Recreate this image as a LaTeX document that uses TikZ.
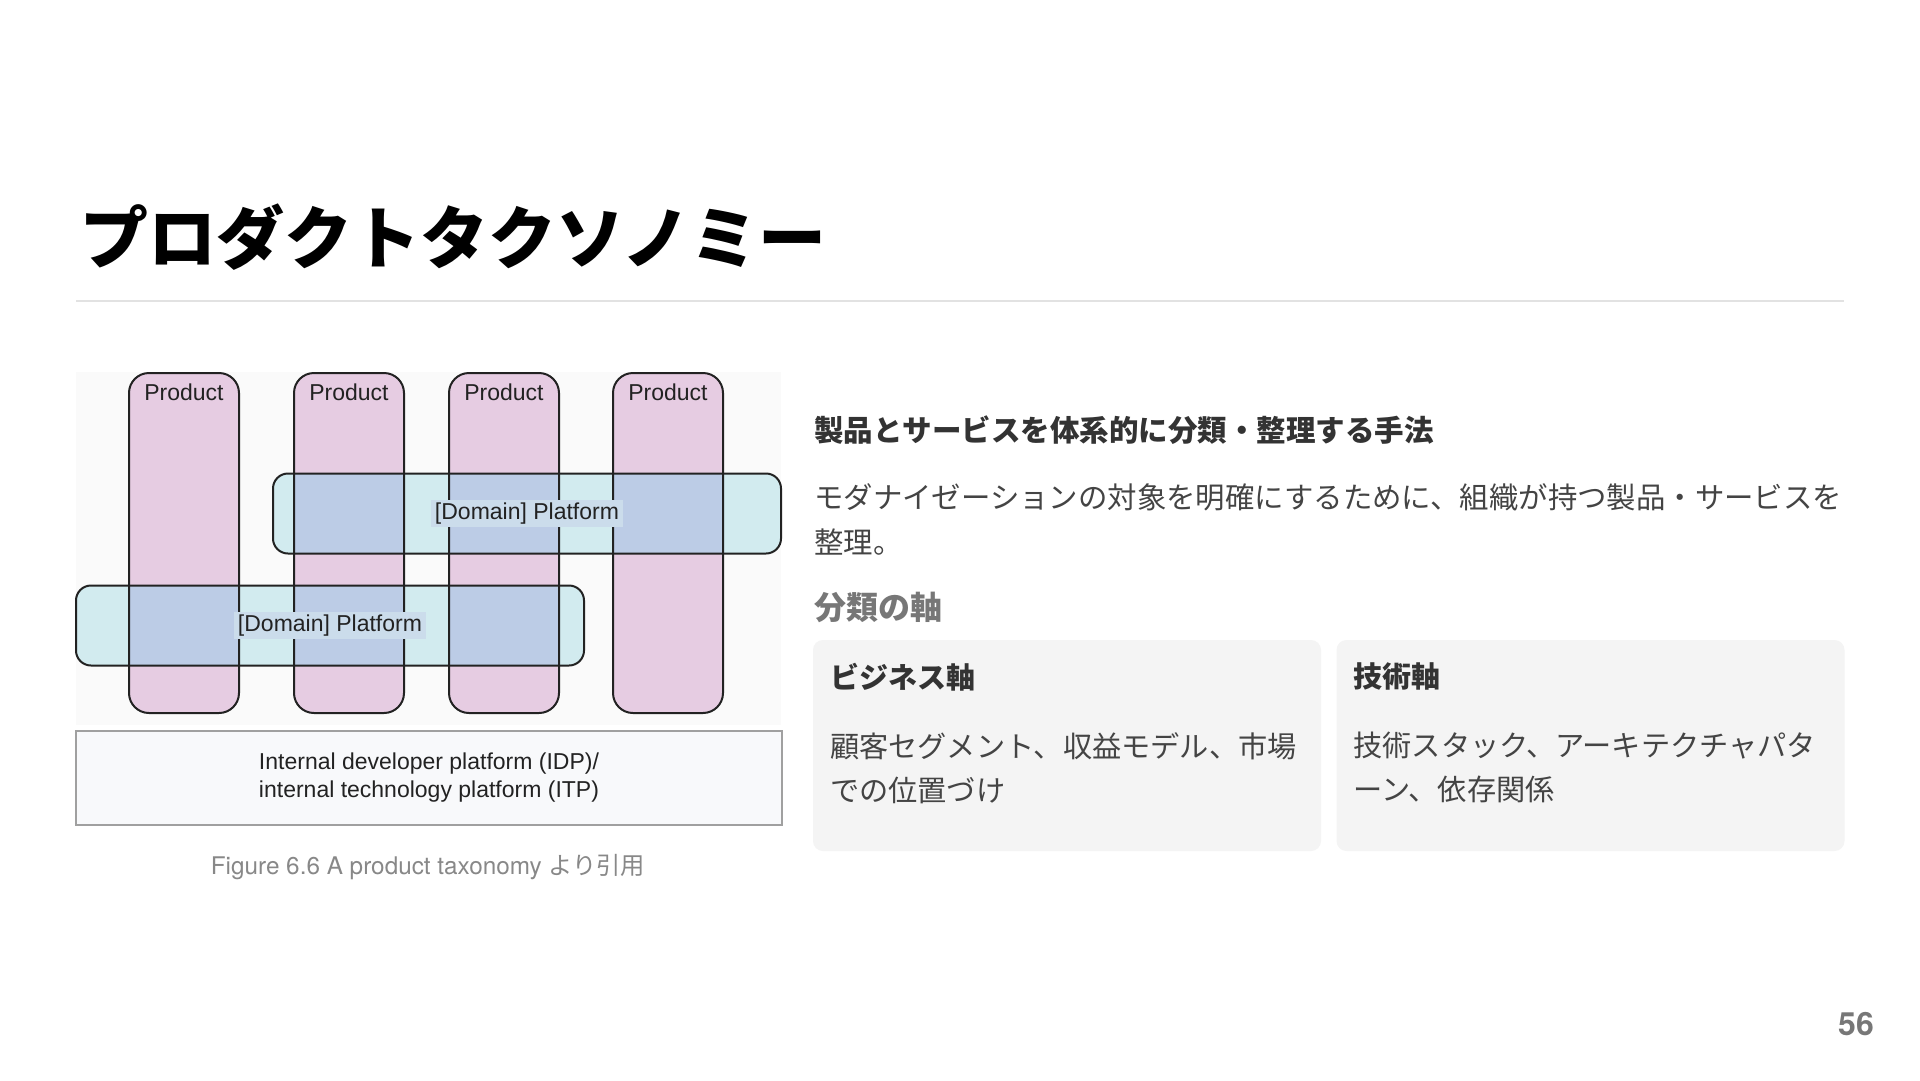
\documentclass[tikz,border=0pt]{standalone}
\usepackage{fontspec}
\setmainfont{Liberation Sans}
\newfontfamily\jpfont{Noto Sans CJK JP}
\newfontfamily\capfont{TeX Gyre Heros}
\usetikzlibrary{positioning}
\definecolor{prodpink}{RGB}{230,204,226}
\definecolor{platcyan}{RGB}{210,235,239}
\definecolor{overlapblue}{RGB}{188,204,230}
\definecolor{labelblue}{RGB}{203,220,235}
\definecolor{edgegray}{RGB}{34,34,34}
\definecolor{diagbg}{RGB}{250,250,250}
\definecolor{idpfill}{RGB}{248,249,251}
\definecolor{idpedge}{RGB}{160,160,160}
\definecolor{cardgray}{RGB}{244,244,244}
\definecolor{rulegray}{RGB}{226,226,226}
\definecolor{headgray}{RGB}{51,51,51}
\definecolor{bodygray}{RGB}{68,68,68}
\definecolor{axisgray}{RGB}{119,119,119}
\definecolor{capgray}{RGB}{136,136,136}
\tikzset{product/.style={fill=prodpink, minimum width=110pt, minimum height=340pt, rounded corners=20pt, inner sep=0pt, outer sep=0pt}}
\tikzset{platform/.style={fill=platcyan, minimum width=508pt, minimum height=80pt, rounded corners=15pt, inner sep=0pt, outer sep=0pt}}
\tikzset{edge/.style={draw=edgegray, line width=2pt}}
\tikzset{prodtext/.style={inner sep=0pt, text=edgegray, font=\fontsize{23}{26}\selectfont}}
\tikzset{domtext/.style={fill=labelblue, inner xsep=4pt, inner ysep=3pt, text=edgegray, font=\fontsize{23}{26}\selectfont}}
\tikzset{card/.style={fill=cardgray, rounded corners=10pt, minimum width=508pt, minimum height=211pt, inner sep=0pt}}
\tikzset{cardhead/.style={anchor=west, inner sep=0pt, text=headgray, font=\jpfont\bfseries\fontsize{29}{44}\selectfont}}
\tikzset{cardbody/.style={anchor=west, inner sep=0pt, align=left, text=bodygray, font=\jpfont\fontsize{29.2}{44}\selectfont}}

\begin{document}
\begin{tikzpicture}[x=1pt, y=-1pt, node distance=50pt]
\fill[white] (0,0) rectangle (1920,1080);
\useasboundingbox (0,0) rectangle (1920,1080);

% title and rule
\node[anchor=west, inner sep=0pt, font=\jpfont\bfseries\fontsize{68}{80}\selectfont] (title) at (80,237) {プロダクトタクソノミー};
\draw[rulegray, line width=1.5pt] (76,301) -- (1844,301);

% taxonomy figure
\node[fill=diagbg, minimum width=705pt, minimum height=353pt, inner sep=0pt] (figbg) at (428.5,548.5) {};
\node[product] (P1) at (184,543) {};
\node[product, right=55pt of P1] (P2) {};
\node[product, right=45pt of P2] (P3) {};
\node[product, right=54pt of P3] (P4) {};
\node[platform] (D1) at (527,513.5) {};
\node[platform] (D2) at (330,625.5) {};
\foreach \p/\d in {P2/D1,P3/D1,P4/D1,P1/D2,P2/D2,P3/D2}
  \fill[overlapblue] (\p.west |- \d.north) rectangle (\p.east |- \d.south);
\foreach \n/\r in {P1/20,P2/20,P3/20,P4/20,D1/15,D2/15}
  \draw[edge, rounded corners=\r pt] (\n.south west) rectangle (\n.north east);
\foreach \n in {P1,P2,P3,P4}
  \node[prodtext, below=11pt of \n.north] (\n text) {Product};
\node[domtext] (D1text) at (D1) {[Domain] Platform};
\node[domtext] (D2text) at (D2) {[Domain] Platform};

\node[fill=idpfill, draw=idpedge, line width=1.5pt, minimum width=706pt, minimum height=94pt, align=center, text=edgegray, font=\fontsize{23}{28}\selectfont] (IDP) at (429,778) {Internal developer platform (IDP)/\\internal technology platform (ITP)};
\node[text=capgray, inner sep=0pt] (caption) at (428,867) {\capfont\fontsize{24.3}{28}\selectfont Figure 6.6 A product taxonomy \jpfont より引用};

% right column
\node[anchor=west, inner sep=0pt, text=headgray, font=\jpfont\bfseries\fontsize{29.5}{44}\selectfont] (lead) at (814,430) {製品とサービスを体系的に分類・整理する手法};
\node[anchor=west, inner sep=0pt, align=left, text=bodygray, font=\jpfont\fontsize{29.4}{45}\selectfont] (summary) at (814,519.5) {モダナイゼーションの対象を明確にするために、組織が持つ製品・サービスを\\整理。};
\node[anchor=west, inner sep=0pt, text=axisgray, font=\jpfont\bfseries\fontsize{32}{40}\selectfont] (axes) at (814,607) {分類の軸};

\node[card] (bizcard) at (1067,745.5) {};
\node[card] (techcard) at (1590.5,745.5) {};
\node[cardhead] (bizhead) at ([xshift=17pt, yshift=-37pt]bizcard.north west) {ビジネス軸};
\node[cardbody] (bizbody) at ([xshift=17pt, yshift=-128pt]bizcard.north west) {顧客セグメント、収益モデル、市場\\での位置づけ};
\node[cardhead] (techhead) at ([xshift=17pt, yshift=-37pt]techcard.north west) {技術軸};
\node[cardbody] (techbody) at ([xshift=17pt, yshift=-128pt]techcard.north west) {技術スタック、アーキテクチャパタ\\ーン、依存関係};

\node[text=axisgray, inner sep=0pt, font=\capfont\bfseries\fontsize{32}{32}\selectfont] (pagenum) at (1856,1024) {56};
\end{tikzpicture}
\end{document}
